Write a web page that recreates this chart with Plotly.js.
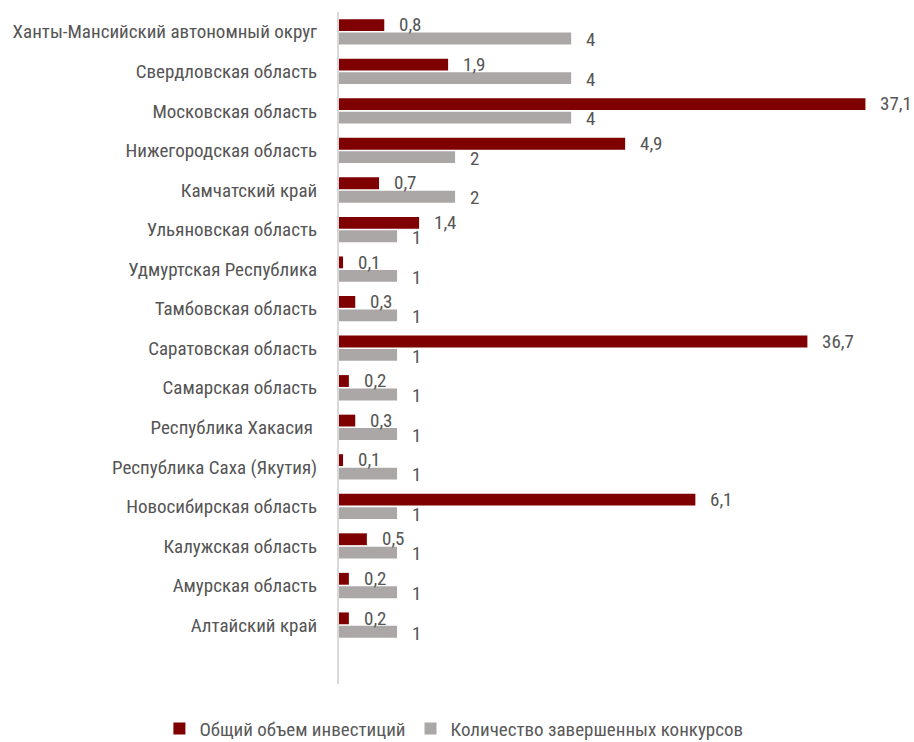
<!DOCTYPE html>
<html>
<head>
<meta charset="utf-8">
<script src="https://cdn.plot.ly/plotly-3.0.1.min.js"></script>
<style>html,body{margin:0;padding:0;background:#fff;}</style>
</head>
<body>
<div id="chart" style="width:914px;height:742px;"></div>
<script>
const regions = [
  'Ханты-Мансийский автономный округ',
  'Свердловская область',
  'Московская область',
  'Нижегородская область',
  'Камчатский край',
  'Ульяновская область',
  'Удмуртская Республика',
  'Тамбовская область',
  'Саратовская область',
  'Самарская область',
  'Республика Хакасия\u00a0',
  'Республика Саха (Якутия)',
  'Новосибирская область',
  'Калужская область',
  'Амурская область',
  'Алтайский край'
];
// data labels of the investment series, as printed
const investLabels = [0.8, 1.9, 37.1, 4.9, 0.7, 1.4, 0.1, 0.3, 36.7, 0.2, 0.3, 0.1, 6.1, 0.5, 0.2, 0.2];
// investment bar lengths (same axis as the contests)
const investBars = [0.78, 1.88, 9.07, 4.93, 0.69, 1.38, 0.07, 0.28, 8.07, 0.17, 0.28, 0.07, 6.14, 0.48, 0.17, 0.17];
// number of completed contests
const contests = [4, 4, 4, 2, 2, 1, 1, 1, 1, 1, 1, 1, 1, 1, 1, 1];

const seriesNames = ['Общий объем инвестиций', 'Количество завершенных конкурсов'];
const RED = '#7f0000', GRAY = '#aba7a6', TXT = '#555555';
const FONT = 'Liberation Sans Narrow, Arial Narrow, Roboto Condensed, Arial, sans-serif';

const fmt = v => v.toFixed(1).replace('.', ',');

const traces = [
  {type: 'bar', orientation: 'h', name: seriesNames[0], y: regions, x: investBars,
   marker: {color: RED}, hoverinfo: 'skip'},
  {type: 'bar', orientation: 'h', name: seriesNames[1], y: regions, x: contests,
   marker: {color: GRAY}, hoverinfo: 'skip'}
];

const annotations = [];
regions.forEach((r, i) => {
  annotations.push({x: investBars[i], y: r, xref: 'x', yref: 'y', text: fmt(investLabels[i]),
    showarrow: false, xanchor: 'left', yanchor: 'middle', xshift: 13, yshift: 7,
    font: {family: FONT, size: 19, color: TXT}});
  annotations.push({x: contests[i], y: r, xref: 'x', yref: 'y', text: String(contests[i]),
    showarrow: false, xanchor: 'left', yanchor: 'middle', xshift: 13, yshift: -8,
    font: {family: FONT, size: 19, color: TXT}});
});

const layout = {
  width: 914, height: 742,
  margin: {l: 339, r: 12, t: 12, b: 58, autoexpand: false},
  paper_bgcolor: '#fff', plot_bgcolor: '#fff',
  barmode: 'group', bargap: 0.32, bargroupgap: 0.12,
  font: {family: FONT, size: 19, color: TXT},
  showlegend: true,
  legend: {orientation: 'h', x: -0.319, xanchor: 'left', y: -0.038, yanchor: 'top',
    font: {family: FONT, size: 19, color: '#595959'}, traceorder: 'normal'},
  xaxis: {range: [0, 9.7], autorange: false, showgrid: false, zeroline: false, showline: false,
    showticklabels: false, ticks: '', fixedrange: true},
  yaxis: {type: 'category', categoryorder: 'array', categoryarray: regions,
    range: [16.49, -0.5], autorange: false, showgrid: false, zeroline: false,
    showline: true, linecolor: '#d9d9d9', linewidth: 2,
    ticks: 'outside', ticklen: 16, tickcolor: 'rgba(0,0,0,0)',
    tickfont: {family: FONT, size: 19, color: TXT}, fixedrange: true},
  annotations: annotations
};

Plotly.newPlot('chart', traces, layout, {displayModeBar: false, staticPlot: true});
</script>
</body>
</html>
